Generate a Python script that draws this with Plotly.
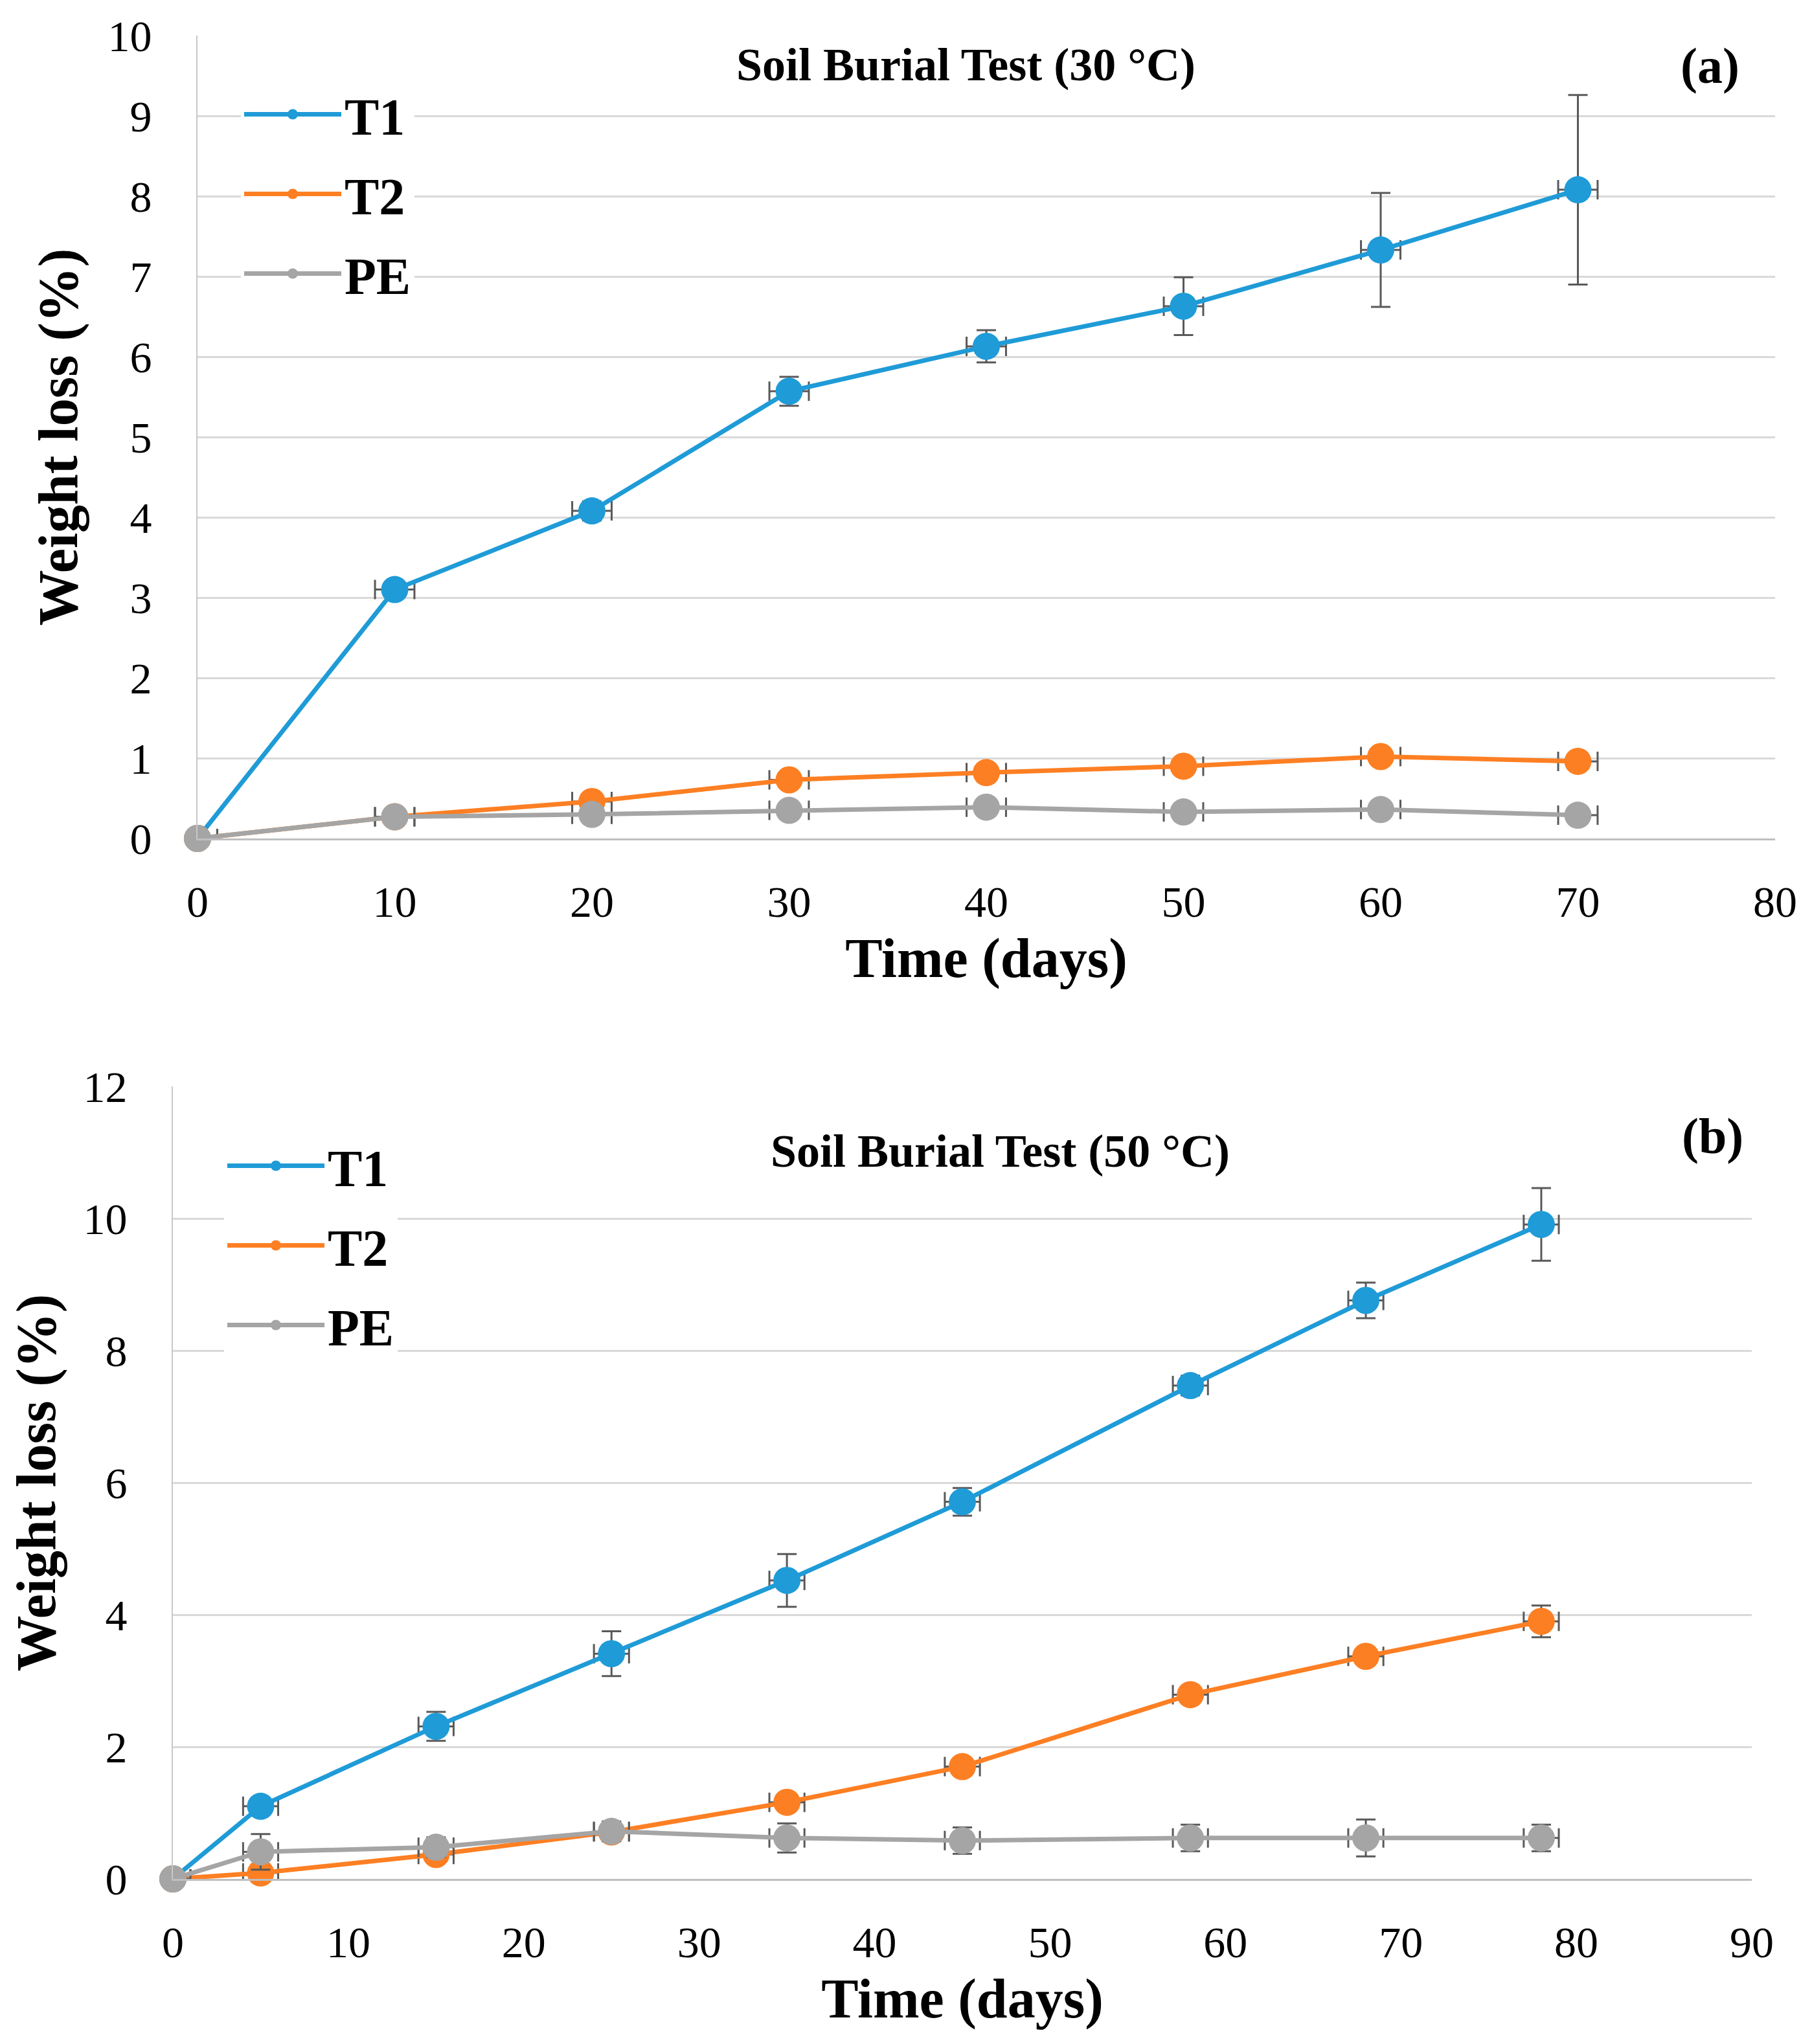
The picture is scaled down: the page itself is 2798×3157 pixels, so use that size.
import plotly.graph_objects as go

# ---------------- data: panel (a) 30 °C ----------------
days_a = [0, 10, 20, 30, 40, 50, 60, 70]
day_err_a = [1, 1, 1, 1, 1, 1, 1, 1]
t1_a = [0, 3.10, 4.08, 5.57, 6.13, 6.63, 7.33, 8.08]
t1_a_err = [0, 0.08, 0.12, 0.18, 0.20, 0.36, 0.71, 1.18]
t2_a = [0, 0.27, 0.46, 0.73, 0.82, 0.90, 1.02, 0.96]
t2_a_err = [0, 0.03, 0.03, 0.04, 0.04, 0.04, 0.05, 0.05]
pe_a = [0, 0.27, 0.30, 0.35, 0.39, 0.33, 0.36, 0.29]
pe_a_err = [0, 0.03, 0.03, 0.03, 0.04, 0.03, 0.04, 0.03]

# ---------------- data: panel (b) 50 °C ----------------
days_b = [0, 5, 15, 25, 35, 45, 58, 68, 78]
day_err_b = [1, 1, 1, 1, 1, 1, 1, 1, 1]
t1_b = [0, 1.10, 2.31, 3.41, 4.52, 5.71, 7.47, 8.76, 9.91]
t1_b_err = [0, 0.10, 0.22, 0.34, 0.40, 0.21, 0.15, 0.27, 0.55]
t2_b = [0, 0.09, 0.37, 0.71, 1.16, 1.70, 2.79, 3.37, 3.90]
t2_b_err = [0, 0.08, 0.10, 0.10, 0.10, 0.10, 0.10, 0.10, 0.24]
pe_b = [0, 0.41, 0.48, 0.72, 0.62, 0.58, 0.62, 0.62, 0.62]
pe_b_err = [0, 0.27, 0.15, 0.15, 0.22, 0.20, 0.20, 0.28, 0.20]

series_names = ["T1", "T2", "PE"]
colors = ["#1f9bd7", "#fd7f23", "#a5a5a5"]

x_ticks_a = [0, 10, 20, 30, 40, 50, 60, 70, 80]
y_ticks_a = [0, 1, 2, 3, 4, 5, 6, 7, 8, 9, 10]
x_ticks_b = [0, 10, 20, 30, 40, 50, 60, 70, 80, 90]
y_ticks_b = [0, 2, 4, 6, 8, 10, 12]

FONT = "Liberation Serif"
ERR_COLOR = "#595959"

fig = go.Figure()

def add_series(x, xerr, y, yerr, name, color, xa, ya, legend):
    fig.add_trace(go.Scatter(
        x=x, y=y, name="<b>" + name + "</b>", mode="lines+markers",
        line=dict(color=color, width=7),
        marker=dict(color=color, size=42),
        error_y=dict(type="data", array=yerr, color=ERR_COLOR, thickness=3, width=15),
        error_x=dict(type="data", array=xerr, color=ERR_COLOR, thickness=3, width=15),
        xaxis=xa, yaxis=ya, legend=legend, legendgroup=legend + name,
        cliponaxis=False,
    ))

for name, col, y, e in zip(series_names, colors, [t1_a, t2_a, pe_a], [t1_a_err, t2_a_err, pe_a_err]):
    add_series(days_a, day_err_a, y, e, name, col, "x", "y", "legend")
for name, col, y, e in zip(series_names, colors, [t1_b, t2_b, pe_b], [t1_b_err, t2_b_err, pe_b_err]):
    add_series(days_b, day_err_b, y, e, name, col, "x2", "y2", "legend2")

W, H = 2798, 3157

def px_x(p):
    return p / W

def px_y(p):
    return 1 - p / H

tick_font = dict(family=FONT, size=68, color="black")
title_font = dict(family=FONT, size=86, color="black")

common_x = dict(showgrid=False, showline=True, linecolor="#bfbfbf", linewidth=3,
                ticks="", tickfont=tick_font, zeroline=False, ticklabelstandoff=36,
                automargin=False)
common_y = dict(showgrid=True, gridcolor="#d9d9d9", gridwidth=3, showline=True,
                linecolor="#c8c8c8", linewidth=2, ticks="", tickfont=tick_font,
                zeroline=False, ticklabelstandoff=55, automargin=False)

fig.update_layout(
    width=W, height=H,
    margin=dict(l=0, r=0, t=0, b=0),
    paper_bgcolor="white", plot_bgcolor="white",
    font=dict(family=FONT, color="black"),
    xaxis=dict(domain=[px_x(297), px_x(2733)], range=[0, 80], tickvals=x_ticks_a,
               anchor="y",
               title=dict(text="<b>Time (days)</b>", font=title_font, standoff=20),
               **common_x),
    yaxis=dict(domain=[px_y(1287), px_y(47)], range=[0, 10], tickvals=y_ticks_a,
               anchor="x",
               title=dict(text="<b>Weight loss (%)</b>", font=title_font, standoff=18),
               **common_y),
    xaxis2=dict(domain=[px_x(259), px_x(2697)], range=[0, 90], tickvals=x_ticks_b,
                anchor="y2",
                title=dict(text="<b>Time (days)</b>", font=title_font, standoff=20),
                **common_x),
    yaxis2=dict(domain=[px_y(2894), px_y(1670)], range=[0, 12], tickvals=y_ticks_b,
                anchor="x2",
                title=dict(text="<b>Weight loss (%)</b>", font=title_font, standoff=30),
                **common_y),
    legend=dict(x=px_x(364), y=px_y(110), xanchor="left", yanchor="top",
                bgcolor="white", font=dict(family=FONT, size=80, color="black"),
                tracegroupgap=16, itemwidth=150, traceorder="grouped"),
    legend2=dict(x=px_x(338), y=px_y(1734), xanchor="left", yanchor="top",
                 bgcolor="white", font=dict(family=FONT, size=80, color="black"),
                 tracegroupgap=16, itemwidth=150, traceorder="grouped"),
    showlegend=True,
)

ann_font = dict(family=FONT, size=72, color="black")
fig.add_annotation(text="<b>Soil Burial Test (30 °C)</b>", xref="paper", yref="paper",
                   x=px_x(1484), y=px_y(92), showarrow=False, font=ann_font,
                   xanchor="center", yanchor="middle")
fig.add_annotation(text="<b>(a)</b>", xref="paper", yref="paper",
                   x=px_x(2632), y=px_y(94), showarrow=False,
                   font=dict(family=FONT, size=78, color="black"),
                   xanchor="center", yanchor="middle")
fig.add_annotation(text="<b>Soil Burial Test (50 °C)</b>", xref="paper", yref="paper",
                   x=px_x(1536), y=px_y(1770), showarrow=False, font=ann_font,
                   xanchor="center", yanchor="middle")
fig.add_annotation(text="<b>(b)</b>", xref="paper", yref="paper",
                   x=px_x(2636), y=px_y(1746), showarrow=False,
                   font=dict(family=FONT, size=78, color="black"),
                   xanchor="center", yanchor="middle")

fig.write_html("out.html")
